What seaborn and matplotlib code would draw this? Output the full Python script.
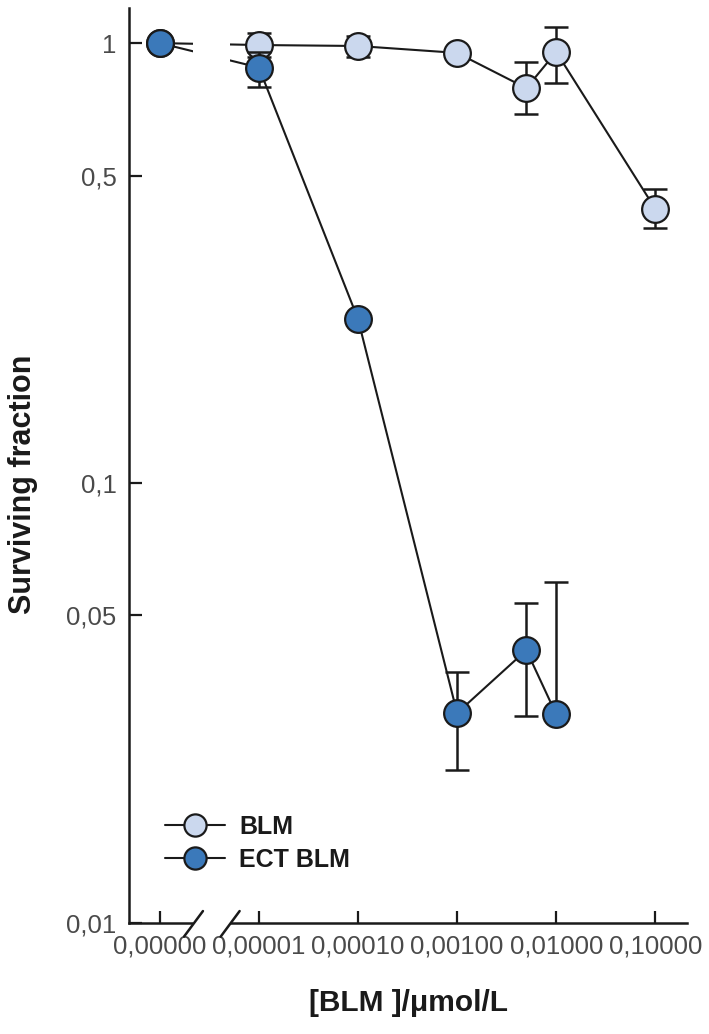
import numpy as np
import pandas as pd
import matplotlib
matplotlib.use("Agg")
import matplotlib.pyplot as plt
import seaborn as sns
from matplotlib.lines import Line2D
from matplotlib.patches import Rectangle
from matplotlib import transforms

# data (control = 0 umol/L)
blm_conc = [0, 1e-5, 1e-4, 1e-3, 5e-3, 1e-2, 1e-1]
blm_frac = [1.0, 0.99, 0.985, 0.95, 0.79, 0.955, 0.42]
blm_lo = [np.nan, 0.93, 0.93, np.nan, 0.69, 0.81, 0.38]
blm_hi = [np.nan, 1.055, 1.04, np.nan, 0.905, 1.09, 0.465]

ect_conc = [0, 1e-5, 1e-4, 1e-3, 5e-3, 1e-2]
ect_frac = [1.0, 0.88, 0.236, 0.030, 0.0417, 0.0298]
ect_lo = [np.nan, 0.795, np.nan, 0.0223, 0.0296, 0.0298]
ect_hi = [np.nan, 0.955, np.nan, 0.0372, 0.0533, 0.0596]

x_ticks = [1e-6, 1e-5, 1e-4, 1e-3, 1e-2, 1e-1]
x_ticklabels = ["0,00000", "0,00001", "0,00010", "0,00100", "0,01000", "0,10000"]
y_ticks = [0.01, 0.05, 0.1, 0.5, 1]
y_ticklabels = ["0,01", "0,05", "0,1", "0,5", "1"]

groups = ["BLM", "ECT BLM"]
colors = {"BLM": "#cbd8ee", "ECT BLM": "#3b79ba"}

control_pos = 1e-6          # where the 0 concentration is drawn
break_lo, break_hi = 10 ** -5.66, 10 ** -5.29
xlim = (10 ** -6.31, 10 ** -0.68)
ylim = (0.01, 1.2)

df = pd.concat([
    pd.DataFrame({"group": "BLM", "conc": blm_conc, "frac": blm_frac,
                  "lo": blm_lo, "hi": blm_hi}),
    pd.DataFrame({"group": "ECT BLM", "conc": ect_conc, "frac": ect_frac,
                  "lo": ect_lo, "hi": ect_hi}),
], ignore_index=True)
df["pos"] = df["conc"].replace(0, control_pos)

sns.set_style("ticks")
plt.rcParams["font.family"] = ["Liberation Sans", "DejaVu Sans"]

fig = plt.figure(figsize=(7.09, 10.34), dpi=100)
ax = fig.add_axes([0.182, 0.1074, 0.787, 0.8846])
ax.set_xscale("log")
ax.set_yscale("log")

sns.lineplot(data=df, x="pos", y="frac", units="group", estimator=None,
             color="#1a1a1a", lw=1.5, ax=ax, zorder=2, legend=False)

# white gap for the axis break
gap = Rectangle((break_lo, -0.004), break_hi - break_lo, 1.004,
                transform=transforms.blended_transform_factory(ax.transData, ax.transAxes),
                facecolor="white", edgecolor="none", clip_on=False, zorder=2.8)
ax.add_patch(gap)

z = 3
for g in groups:
    sub = df[df["group"] == g]
    eb = sub.dropna(subset=["lo", "hi"])
    ax.errorbar(eb["pos"], eb["frac"], yerr=[eb["frac"] - eb["lo"], eb["hi"] - eb["frac"]],
                fmt="none", ecolor="#1a1a1a", elinewidth=1.8, capsize=8.5,
                capthick=1.8, zorder=z)
    sns.scatterplot(data=sub, x="pos", y="frac", color=colors[g], s=370,
                    edgecolor="#1a1a1a", linewidth=1.6, ax=ax, zorder=z + 1,
                    legend=False)
    z += 2

ax.set_xlim(*xlim)
ax.set_ylim(*ylim)
ax.set_xticks(x_ticks)
ax.set_xticklabels(x_ticklabels)
ax.set_yticks(y_ticks)
ax.set_yticklabels(y_ticklabels)
ax.minorticks_off()
ax.tick_params(axis="both", direction="in", length=9, width=1.6,
               labelsize=18.5, labelcolor="#4a4a4a", color="#1a1a1a")
ax.tick_params(axis="x", pad=8)
ax.tick_params(axis="y", pad=9)

sns.despine(ax=ax)
for s in ["left", "bottom"]:
    ax.spines[s].set_linewidth(1.8)
    ax.spines[s].set_color("#1a1a1a")

# break slashes on the x axis
lx = np.log10(xlim)
for b in [break_lo, break_hi]:
    xf = (np.log10(b) - lx[0]) / (lx[1] - lx[0])
    ax.plot([xf - 0.017, xf + 0.017], [-0.015, 0.013], transform=ax.transAxes,
            color="#1a1a1a", lw=1.8, clip_on=False, zorder=3)

ax.set_ylabel("Surviving fraction", fontsize=22, fontweight="bold",
              color="#1a1a1a")
ax.yaxis.set_label_coords(-0.163, 0.48)
ax.set_xlabel("[BLM ]/\u03bcmol/L", fontsize=21.5, fontweight="bold",
              color="#1a1a1a", labelpad=22)

handles = [Line2D([], [], color="#1a1a1a", lw=1.5, marker="o", markersize=16,
                  markerfacecolor=colors[g], markeredgecolor="#1a1a1a",
                  markeredgewidth=1.6) for g in groups]
leg = ax.legend(handles, groups, loc="center left", bbox_to_anchor=(0.065, 0.087),
                frameon=False, handlelength=2.4, handletextpad=0.55,
                labelspacing=0.35, borderpad=0, borderaxespad=0,
                prop={"size": 18, "weight": "bold"})
for t in leg.get_texts():
    t.set_color("#1a1a1a")

fig.savefig("out.png", dpi=100)
